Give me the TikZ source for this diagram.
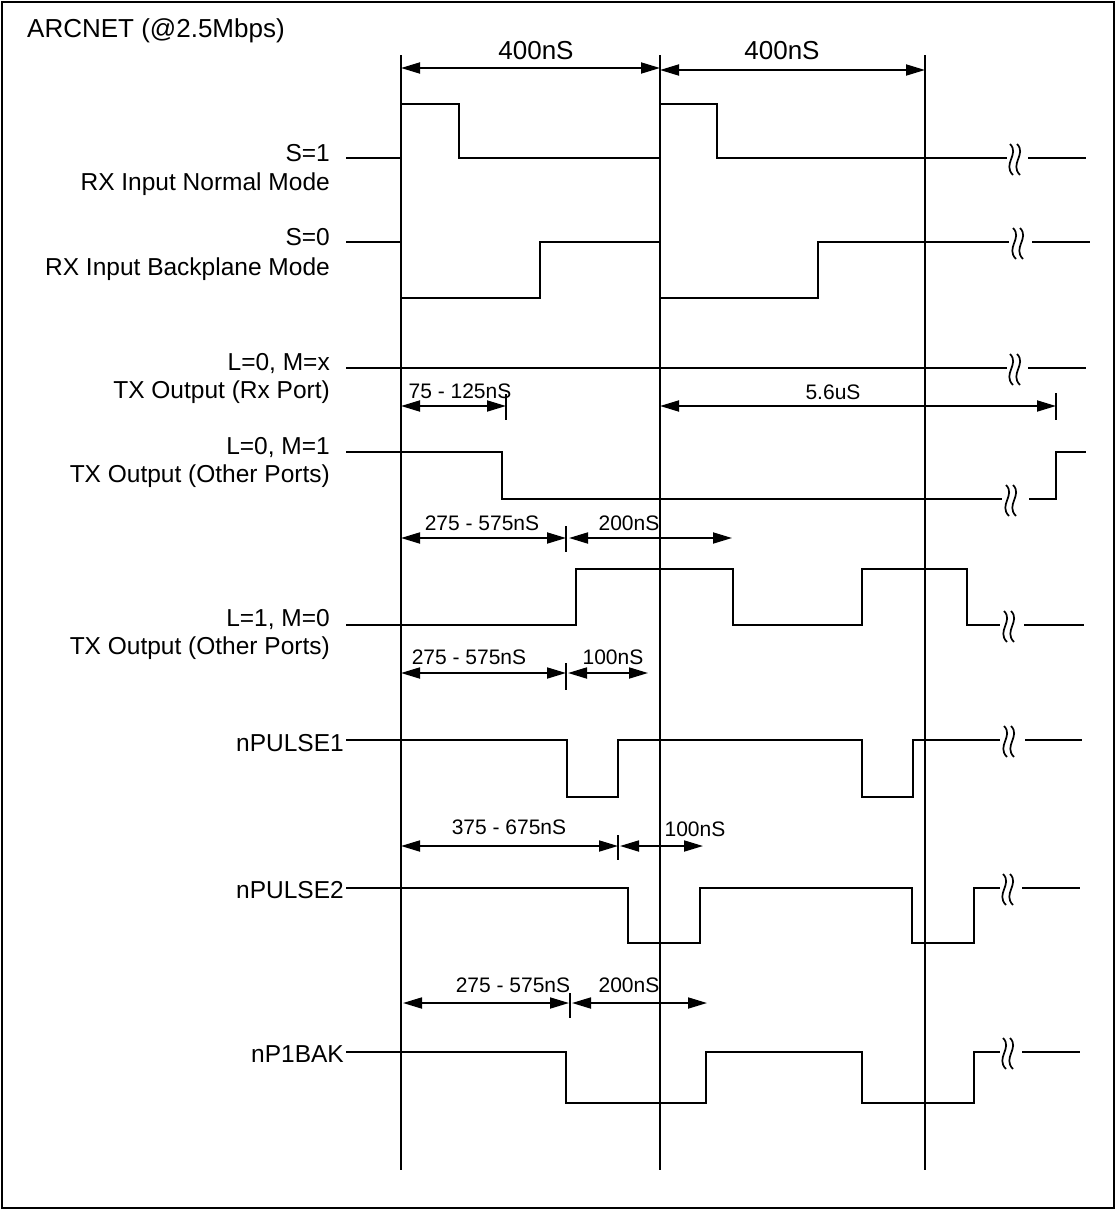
\documentclass[tikz,border=0pt]{standalone}
\usepackage{fontspec}
\setmainfont{Liberation Sans}
\usetikzlibrary{arrows.meta}
\tikzset{
  wave/.style={line width=2pt, line join=miter},
  gridline/.style={line width=1.7pt},
  dimline/.style={line width=1.8pt, {Triangle[length=19pt,width=11pt]}-{Triangle[length=19pt,width=11pt]}},
  tickline/.style={line width=1.7pt},
  siglbl/.style={font=\fontsize{24.5}{26}\selectfont, inner sep=0pt, text height=17.5pt, text depth=0pt, anchor=east},
  dimlbl/.style={font=\fontsize{21}{23}\selectfont, inner sep=0pt, text height=15pt, text depth=0pt},
  biglbl/.style={font=\fontsize{26}{28}\selectfont, inner sep=0pt, text height=18.6pt, text depth=0pt},
  brk/.pic={
    \draw[line width=1.7pt] (0,-14) .. controls (10,-4) and (-8,6) .. (3,17);
    \draw[line width=1.7pt] (7,-14) .. controls (17,-4) and (-1,6) .. (10,17);
  }
}
\begin{document}
\begin{tikzpicture}[x=1pt,y=-1pt]
\useasboundingbox (0,0) rectangle (1116,1210);
\draw[line width=2pt] (1.5,1.5) rectangle (1114,1208);

% title
\node[biglbl, anchor=west] (title) at (27,28) {ARCNET (@2.5Mbps)};

% vertical time markers
\coordinate (t0a) at (401,55);  \coordinate (t0b) at (401,1170);
\coordinate (t1a) at (660,55);  \coordinate (t1b) at (660,1170);
\coordinate (t2a) at (925,55);  \coordinate (t2b) at (925,1170);
\draw[gridline] (t0a) -- (t0b);
\draw[gridline] (t1a) -- (t1b);
\draw[gridline] (t2a) -- (t2b);

% 400nS dimensions
\coordinate (d1a) at (401,68); \coordinate (d1b) at (660,68);
\coordinate (d2a) at (660,70); \coordinate (d2b) at (925,70);
\draw[dimline] (d1a) -- (d1b);
\draw[dimline] (d2a) -- (d2b);
\node[biglbl] (l400a) at (536,50) {400nS};
\node[biglbl] (l400b) at (782,50) {400nS};

% signal labels
\node[siglbl] (s1a) at (330,153) {S=1};
\node[siglbl] (s1b) at (330,182) {RX Input Normal Mode};
\node[siglbl] (s2a) at (330,237) {S=0};
\node[siglbl] (s2b) at (330,267) {RX Input Backplane Mode};
\node[siglbl] (s3a) at (330,362) {L=0, M=x};
\node[siglbl] (s3b) at (330,390) {TX Output (Rx Port)};
\node[siglbl] (s4a) at (330,446) {L=0, M=1};
\node[siglbl] (s4b) at (330,474) {TX Output (Other Ports)};
\node[siglbl] (s5a) at (330,618) {L=1, M=0};
\node[siglbl] (s5b) at (330,646) {TX Output (Other Ports)};
\node[siglbl] (s6) at (344,743) {nPULSE1};
\node[siglbl] (s7) at (344,890) {nPULSE2};
\node[siglbl] (s8) at (344,1054) {nP1BAK};

% S=1
\draw[wave] (346,158) -- (401,158) -- (401,104) -- (459,104) -- (459,158) -- (660,158) -- (660,104) -- (717,104) -- (717,158) -- (1007,158);
\pic at (1010,158) {brk};
\draw[wave] (1028,158) -- (1086,158);

% S=0
\draw[wave] (346,242) -- (401,242) -- (401,298) -- (540,298) -- (540,242) -- (660,242) -- (660,298) -- (818,298) -- (818,242) -- (1009,242);
\pic at (1013,242) {brk};
\draw[wave] (1032,242) -- (1090,242);

% L=0, M=x
\draw[wave] (346,368) -- (1007,368);
\pic at (1010,368) {brk};
\draw[wave] (1028,368) -- (1086,368);

% L=0, M=1
\draw[wave] (346,452) -- (502,452) -- (502,499) -- (1002,499);
\pic at (1006,499) {brk};
\draw[wave] (1029,499) -- (1056,499) -- (1056,452) -- (1086,452);

% L=1, M=0
\draw[wave] (346,625) -- (576,625) -- (576,569) -- (733,569) -- (733,625) -- (862,625) -- (862,569) -- (967,569) -- (967,625) -- (1000,625);
\pic at (1004,625) {brk};
\draw[wave] (1024,625) -- (1084,625);

% nPULSE1
\draw[wave] (346,740) -- (567,740) -- (567,797) -- (618,797) -- (618,740) -- (862,740) -- (862,797) -- (913,797) -- (913,740) -- (1000,740);
\pic at (1004,740) {brk};
\draw[wave] (1025,740) -- (1082,740);

% nPULSE2
\draw[wave] (346,888) -- (628,888) -- (628,943) -- (700,943) -- (700,888) -- (912,888) -- (912,943) -- (974,943) -- (974,888) -- (1000,888);
\pic at (1003,888) {brk};
\draw[wave] (1022,888) -- (1080,888);

% nP1BAK
\draw[wave] (346,1052) -- (566,1052) -- (566,1103) -- (706,1103) -- (706,1052) -- (862,1052) -- (862,1103) -- (974,1103) -- (974,1052) -- (1000,1052);
\pic at (1003,1052) {brk};
\draw[wave] (1022,1052) -- (1080,1052);

% 75 - 125nS and 5.6uS
\coordinate (a1) at (401,406); \coordinate (a2) at (506,406);
\draw[dimline] (a1) -- (a2);
\draw[tickline] (506,394) -- (506,420);
\node[dimlbl] (la) at (460,391) {75 - 125nS};
\coordinate (b1) at (660,406); \coordinate (b2) at (1056,406);
\draw[dimline] (b1) -- (b2);
\draw[tickline] (1056,393) -- (1056,420);
\node[dimlbl] (lb) at (833,392) {5.6uS};

% row A
\coordinate (c1) at (401,538); \coordinate (c2) at (566,538); \coordinate (c3) at (569,538); \coordinate (c4) at (732,538);
\draw[dimline] (c1) -- (c2);
\draw[tickline] (566,526) -- (566,552);
\draw[dimline] (c3) -- (c4);
\node[dimlbl] (lc1) at (482,523) {275 - 575nS};
\node[dimlbl] (lc2) at (629,523) {200nS};

% row B
\coordinate (e1) at (401,673); \coordinate (e2) at (566,673); \coordinate (e3) at (568,673); \coordinate (e4) at (648,673);
\draw[dimline] (e1) -- (e2);
\draw[tickline] (566,663) -- (566,690);
\draw[dimline] (e3) -- (e4);
\node[dimlbl] (le1) at (469,657) {275 - 575nS};
\node[dimlbl] (le2) at (613,657) {100nS};

% row C
\coordinate (f1) at (401,846); \coordinate (f2) at (618,846); \coordinate (f3) at (620,846); \coordinate (f4) at (703,846);
\draw[dimline] (f1) -- (f2);
\draw[tickline] (618,835) -- (618,860);
\draw[dimline] (f3) -- (f4);
\node[dimlbl] (lf1) at (509,827) {375 - 675nS};
\node[dimlbl] (lf2) at (695,829) {100nS};

% row D
\coordinate (g1) at (403,1003); \coordinate (g2) at (569,1003); \coordinate (g3) at (572,1003); \coordinate (g4) at (707,1003);
\draw[dimline] (g1) -- (g2);
\draw[tickline] (570,993) -- (570,1018);
\draw[dimline] (g3) -- (g4);
\node[dimlbl] (lg1) at (513,985) {275 - 575nS};
\node[dimlbl] (lg2) at (629,985) {200nS};
\end{tikzpicture}
\end{document}
